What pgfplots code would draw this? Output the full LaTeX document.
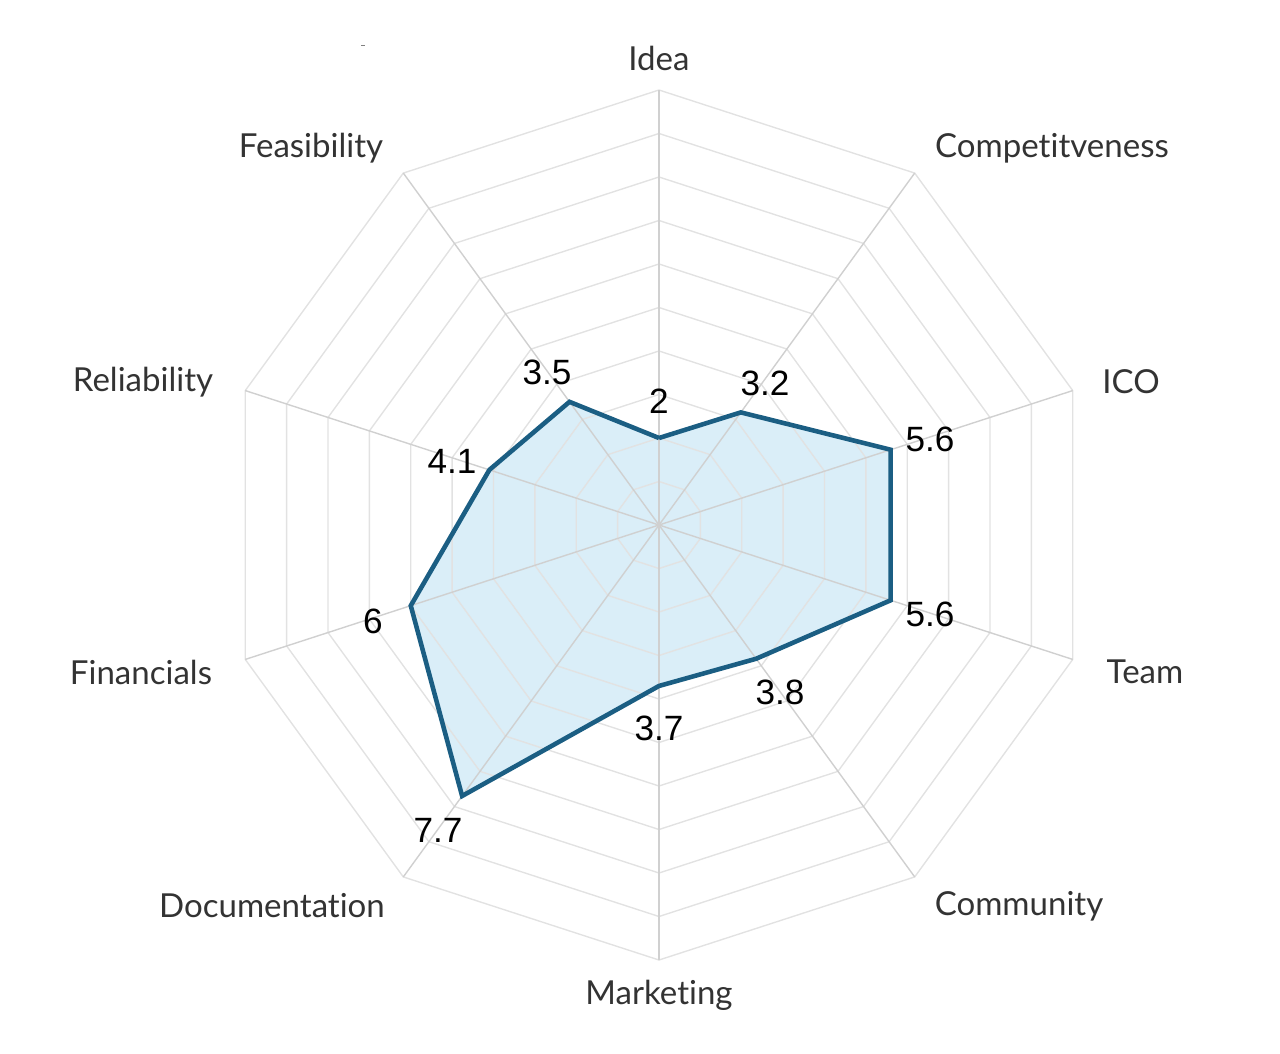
\documentclass[border=0pt]{standalone}
\usepackage{pgfplots}
\pgfplotsset{compat=1.18}
\usepackage{fontspec}
\setmainfont{Lato}[Ligatures={NoCommon,NoRare,NoDiscretionary}]
\newfontfamily\valfont{Liberation Sans}

\definecolor{radarline}{HTML}{1B5E83}
\definecolor{radarfill}{HTML}{D3EBF7}
\definecolor{ringgray}{HTML}{E2E2E2}
\definecolor{spokegray}{HTML}{D0D0D0}
\definecolor{labelgray}{HTML}{333333}

\begin{document}
\begin{tikzpicture}
\begin{axis}[
    scale only axis,
    width=12.8cm, height=10.53cm,
    xmin=-15.149, xmax=14.276,
    ymin=-12.138, ymax=12.069,
    hide axis, clip=false,
]
\path[draw=none] (rel axis cs:0,0) rectangle (rel axis cs:1,1);

% score polygon (angle, score)
\addplot[data cs=polar, draw=none, fill=radarfill, fill opacity=0.85] coordinates {
    (90,2) (54,3.2) (18,5.6) (-18,5.6) (-54,3.8)
    (-90,3.7) (-126,7.7) (-162,6) (162,4.1) (126,3.5) (90,2)
};

% grid rings
\pgfplotsinvokeforeach{1,...,10}{
  \addplot[data cs=polar, ringgray, line width=0.4pt] coordinates {
    (90,#1) (54,#1) (18,#1) (-18,#1) (-54,#1)
    (-90,#1) (-126,#1) (-162,#1) (162,#1) (126,#1) (90,#1)
  };
}
% spokes
\pgfplotsinvokeforeach{90,54,18,-18,-54,-90,-126,-162,162,126}{
  \addplot[data cs=polar, spokegray, line width=0.4pt] coordinates {(#1,0) (#1,10)};
}

\addplot[data cs=polar, radarline, line width=1.3pt, line join=miter] coordinates {
    (90,2) (54,3.2) (18,5.6) (-18,5.6) (-54,3.8)
    (-90,3.7) (-126,7.7) (-162,6) (162,4.1) (126,3.5) (90,2)
};

% category labels
\begin{scope}[every node/.style={font=\fontsize{9.4pt}{11pt}\selectfont, text=labelgray}]
\node at (axis cs:0,10.736) {Idea};
\node at (axis cs:9.034,8.667) {Competitveness};
\node at (axis cs:10.851,3.287) {ICO};
\node at (axis cs:11.172,-3.379) {Team};
\node at (axis cs:8.276,-8.759) {Community};
\node at (axis cs:0,-10.805) {Marketing};
\node at (axis cs:-8.897,-8.759) {Documentation};
\node at (axis cs:-11.908,-3.379) {Financials};
\node at (axis cs:-11.862,3.287) {Reliability};
\node at (axis cs:-8.0,8.667) {Feasibility};
\end{scope}

% value labels
\begin{scope}[every node/.style={font=\valfont\fontsize{10pt}{12pt}\selectfont, text=black}]
\node at (axis cs:0,2.851) {2};
\node at (axis cs:2.437,3.264) {3.2};
\node at (axis cs:6.230,1.977) {5.6};
\node at (axis cs:6.230,-2.046) {5.6};
\node at (axis cs:2.782,-3.839) {3.8};
\node at (axis cs:0,-4.667) {3.7};
\node at (axis cs:-5.080,-7.011) {7.7};
\node at (axis cs:-6.575,-2.207) {6};
\node at (axis cs:-4.759,1.471) {4.1};
\node at (axis cs:-2.575,3.517) {3.5};
\end{scope}

\draw[gray, line width=0.4pt] (axis cs:-6.85,11.02) -- (axis cs:-6.75,11.02);
\end{axis}
\end{tikzpicture}
\end{document}
